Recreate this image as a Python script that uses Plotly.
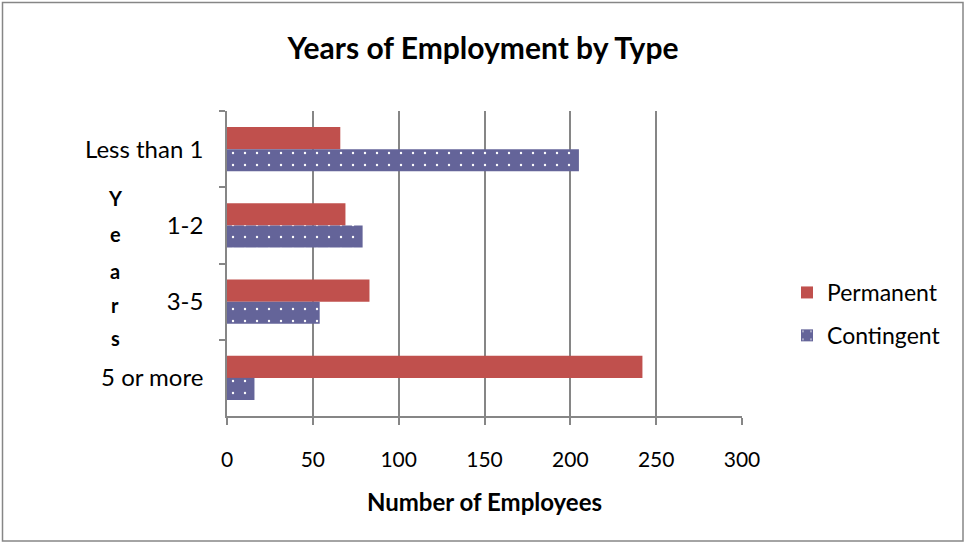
import plotly.graph_objects as go

categories = ["Less than 1", "1-2", "3-5", "5 or more"]
permanent = [66, 69, 83, 242]
contingent = [205, 79, 54, 16]
x_ticks = [0, 50, 100, 150, 200, 250, 300]
y_title_letters = ["Y", "e", "a", "r", "s"]

FONT = "Lato"
GRID = "#868686"

fig = go.Figure()
fig.add_trace(go.Bar(
    y=categories, x=permanent, name="Permanent", orientation="h",
    marker=dict(color="#C0504D", line=dict(width=0)),
    legendgroup="p",
))
fig.add_trace(go.Bar(
    y=categories, x=contingent, name="Contingent", orientation="h",
    marker=dict(color="#646499", line=dict(width=0),
                pattern=dict(shape=".", fgcolor="white", bgcolor="#646499",
                             size=12, solidity=0.03, fillmode="replace")),
    legendgroup="c",
))

W, H = 966, 544
L, R, T, B = 227, 224, 111, 128
pw, ph = W - L - R, H - T - B

fig.update_layout(
    width=W, height=H,
    margin=dict(l=L, r=R, t=T, b=B),
    paper_bgcolor="white", plot_bgcolor="white",
    barmode="group", bargap=0.42, bargroupgap=0,
    title=dict(text="<b>Years of Employment by Type</b>", x=0.5, xanchor="center",
               y=1 - 48 / H, yanchor="middle",
               font=dict(family=FONT, size=30, color="black")),
    font=dict(family=FONT, color="black"),
    legend=dict(x=(787 - L) / pw, xanchor="left", y=(416 - 271) / ph, yanchor="top",
                font=dict(family=FONT, size=23, color="black"),
                tracegroupgap=10, traceorder="grouped", bgcolor="rgba(0,0,0,0)"),
    xaxis=dict(range=[0, 300], tickvals=x_ticks, showgrid=True, gridcolor=GRID, gridwidth=1.6,
               showline=True, linecolor=GRID, linewidth=1.6, ticks="outside", ticklen=7,
               tickcolor=GRID, tickwidth=1.6, zeroline=False,
               tickfont=dict(family=FONT, size=21, color="black"), ticklabelstandoff=17,
               title=dict(text="<b>Number of Employees</b>", font=dict(family=FONT, size=24, color="black"),
                          standoff=24)),
    yaxis=dict(categoryorder="array", categoryarray=categories, autorange="reversed",
               showgrid=False, showline=True, linecolor=GRID, linewidth=1.6,
               ticks="outside", ticklen=6, tickcolor=GRID, tickwidth=1.6, tickson="boundaries",
               tickfont=dict(family=FONT, size=24, color="black"), ticklabelstandoff=17),
)

# "Years" axis title, stacked letters
ys = [198, 234, 271, 305, 338]
for letter, py in zip(y_title_letters, ys):
    fig.add_annotation(text=f"<b>{letter}</b>", xref="paper", yref="paper",
                       x=(115 - L) / pw, y=(H - B - py) / ph, showarrow=False,
                       xanchor="center", yanchor="middle",
                       font=dict(family=FONT, size=20, color="black"))

# outer chart border
fig.add_shape(type="rect", xref="paper", yref="paper",
              x0=(2.5 - L) / pw, x1=(963 - L) / pw, y0=(H - B - 541) / ph, y1=(H - B - 2.5) / ph,
              line=dict(color=GRID, width=1.5), fillcolor="rgba(0,0,0,0)", layer="below")

fig.write_html("out.html", config={"displayModeBar": False},
               post_script="document.body.style.margin='0';document.body.style.overflow='hidden';")
